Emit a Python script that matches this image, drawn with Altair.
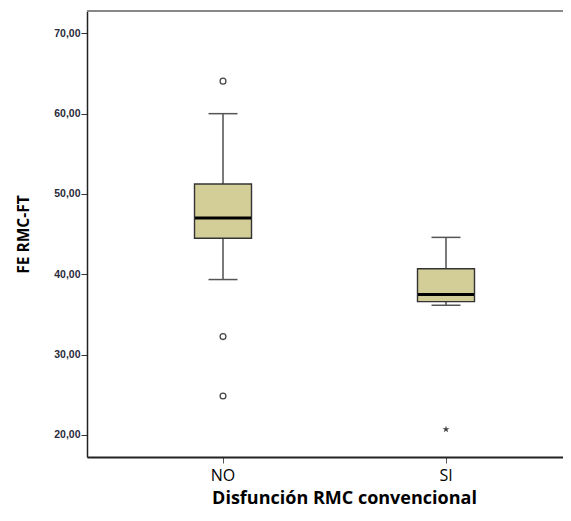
import altair as alt
import pandas as pd

groups = ["NO", "SI"]
whisker_low = [39.35, 36.15]
q1 = [44.5, 36.6]
median = [47.0, 37.5]
q3 = [51.25, 40.7]
whisker_high = [60.0, 44.6]

outlier_group = ["NO", "NO", "NO"]
outlier_value = [64.05, 32.25, 24.85]
extreme_group = ["SI"]
extreme_value = [20.7]

y_ticks = [20, 30, 40, 50, 60, 70]

box_df = pd.DataFrame({"group": groups, "lo": whisker_low, "q1": q1,
                       "med": median, "q3": q3, "hi": whisker_high})
out_df = pd.DataFrame({"group": outlier_group, "v": outlier_value})
ext_df = pd.DataFrame({"group": extreme_group, "v": extreme_value})

W, H = 476, 446
xscale = alt.Scale(domain=groups, paddingInner=0, paddingOuter=0.0673, align=0.8167)
yscale = alt.Scale(domain=[17.26, 72.78], nice=False, zero=False)

x_enc = alt.X("group:N", scale=xscale, sort=groups, axis=alt.Axis(
    title="Disfunción RMC convencional", labelAngle=0,
    labelFont="Open Sans", labelFontSize=16, labelColor="#000000", labelPadding=4,
    tickSize=6, tickColor="#555555", tickWidth=1,
    domainColor="#222222", domainWidth=2,
    titleFont="Open Sans", titleFontSize=18, titleFontWeight="bold", titleColor="#000000",
    titleX=257, titleY=46, titleBaseline="alphabetic", titleAlign="center"))

y_axis = alt.Axis(
    title="FE RMC-FT", values=y_ticks, grid=False,
    labelExpr="replace(format(datum.value, '.2f'), '.', ',')",
    labelFont="Liberation Sans", labelFontSize=10.5, labelFontWeight="bold",
    labelColor="#2a2a3a", labelPadding=1,
    tickSize=6, tickColor="#333333", tickWidth=1,
    domainColor="#222222", domainWidth=1.5,
    titleFont="Open Sans", titleFontSize=15.5, titleFontWeight="bold", titleColor="#000000",
    titleX=-59, titleY=223, titleBaseline="alphabetic", titleAlign="center", titleAngle=-90)

base = alt.Chart(box_df)

whisk = base.mark_rule(color="#333333", strokeWidth=1.3).encode(
    x=x_enc, y=alt.Y("lo:Q", scale=yscale, axis=y_axis), y2="hi:Q")

caps_hi = base.mark_tick(color="#555555", size=29, thickness=1.5, opacity=1).encode(
    x="group:N", y="hi:Q")
caps_lo = base.mark_tick(color="#555555", size=29, thickness=1.5, opacity=1).encode(
    x="group:N", y="lo:Q")

box = base.mark_bar(size=57, fill="#D3CE98", stroke="#333333", strokeWidth=1.4).encode(
    x="group:N", y="q1:Q", y2="q3:Q")

med = base.mark_tick(color="#000000", size=56, thickness=3, opacity=1).encode(
    x="group:N", y="med:Q")

outl = alt.Chart(out_df).mark_point(shape="circle", size=34, filled=False,
                                    color="#444444", strokeWidth=1.3, opacity=1).encode(
    x="group:N", y="v:Q")

star = "M0,-1L0.2245,-0.309L0.951,-0.309L0.363,0.118L0.588,0.809L0,0.382L-0.588,0.809L-0.363,0.118L-0.951,-0.309L-0.2245,-0.309Z"
ext = alt.Chart(ext_df).mark_point(shape=star, size=55, filled=True,
                                   color="#444444", opacity=1).encode(
    x="group:N", y="v:Q")

top_border = base.mark_rule(color="#888888", strokeWidth=2).encode(
    x=alt.value(0), x2=alt.value(W), y=alt.value(0))

chart = alt.layer(whisk, caps_hi, caps_lo, box, med, outl, ext, top_border).properties(
    width=W, height=H,
    autosize=alt.AutoSizeParams(type="none"),
    padding={"left": 79, "top": 3, "right": 0, "bottom": 50},
).configure_view(fill="#EFEFEF", stroke=None).configure(background="#FFFFFF")

chart.save("out.html", embed_options={"renderer": "svg", "actions": False})
